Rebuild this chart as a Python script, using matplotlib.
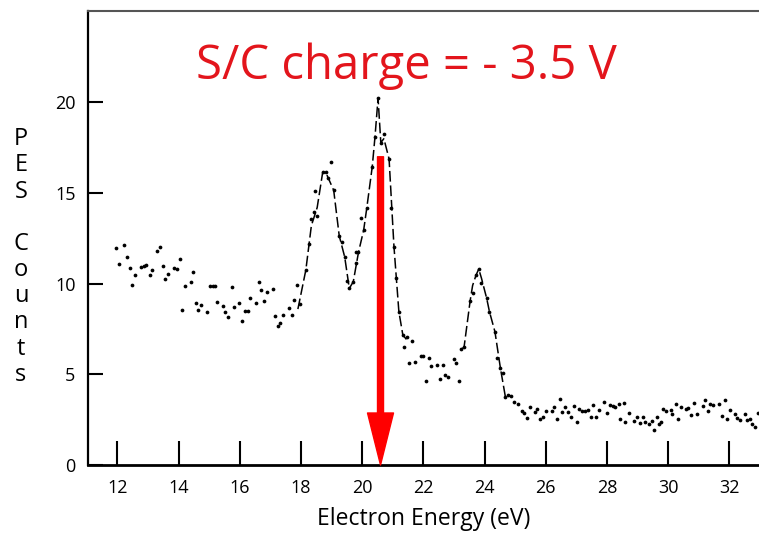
import matplotlib
matplotlib.use('Agg')
import matplotlib.pyplot as plt

energy = [11.96,12.06,12.23,12.32,12.41,12.49,12.59,12.78,12.86,12.95,13.05,13.13,13.31,13.40,13.49,
          13.57,13.66,13.85,13.95,14.04,14.11,14.21,14.39,14.47,14.56,14.65,14.73,14.92,15.03,15.12,
          15.19,15.27,15.45,15.53,15.63,15.73,15.80,15.99,16.08,16.17,16.26,16.35,16.53,16.62,16.71,
          16.79,16.88,17.07,17.15,17.24,17.33,17.42,17.61,
          17.70,17.78,17.87,17.96,18.16,18.25,18.34,18.44,18.46,18.53,18.71,18.81,18.90,18.99,19.07,
          19.25,19.34,19.43,19.52,19.58,19.71,19.79,19.80,19.88,19.97,20.05,20.15,20.33,20.42,20.52,
          20.61,20.71,20.88,20.95,21.04,21.11,21.20,21.33,21.37,21.46,
          21.54,21.63,21.72,21.92,22.00,22.08,22.18,22.26,22.45,22.54,22.63,22.72,22.82,22.99,23.08,
          23.16,23.23,23.33,23.53,23.61,23.72,23.81,23.90,24.07,24.16,24.34,24.40,24.52,24.60,24.68,
          24.77,24.86,24.96,25.09,
          25.23,25.30,25.39,25.49,25.64,25.71,25.81,25.90,26.01,26.20,26.28,26.36,26.47,26.54,26.64,
          26.73,26.84,26.92,27.01,27.10,27.20,27.29,27.38,27.47,27.56,27.65,27.75,27.92,28.00,28.10,
          28.19,28.28,28.40,28.44,28.55,28.60,28.71,28.90,28.97,29.07,29.17,29.25,29.37,29.46,29.54,
          29.63,29.70,29.78,29.84,29.94,30.09,30.13,30.25,30.33,30.42,30.58,30.66,30.75,30.85,30.94,
          31.14,31.22,31.30,31.38,31.48,31.65,31.76,31.85,31.93,32.03,32.19,32.26,32.35,32.51,32.59,
          32.68,32.75,32.84,32.93]
counts = [11.95,11.09,12.13,11.47,10.85,9.94,10.48,10.92,10.98,11.03,10.46,10.74,11.82,12.02,10.99,
          10.28,10.55,10.88,10.81,11.36,8.53,9.89,10.11,10.66,8.94,8.55,8.84,8.46,9.87,9.89,
          9.87,8.99,8.79,8.44,8.16,9.80,8.71,8.95,7.93,8.48,8.48,9.23,8.94,10.09,9.65,
          9.03,9.53,9.69,8.23,7.68,7.83,8.29,8.68,
          8.27,9.08,9.91,8.86,10.76,12.17,13.55,13.94,15.13,13.73,16.14,16.14,15.81,16.71,15.15,
          12.65,12.30,11.47,10.17,9.74,10.11,11.73,11.16,11.73,13.64,12.96,14.16,16.45,18.11,20.23,
          17.78,18.26,16.88,14.16,12.04,10.30,8.46,7.17,6.53,7.04,
          5.61,6.84,5.68,6.01,6.01,4.63,5.90,5.48,5.52,4.76,5.52,4.96,4.84,5.85,5.61,
          4.65,6.38,6.49,9.06,9.50,10.46,10.81,10.02,9.19,8.46,7.35,5.88,5.33,5.06,3.77,
          3.86,3.82,3.46,3.36,
          3.00,2.85,2.57,3.22,2.94,3.07,2.54,2.66,2.98,3.00,3.20,2.52,3.64,2.91,3.22,
          2.91,2.66,3.27,2.39,3.07,2.96,3.00,3.03,2.65,3.29,2.65,3.03,3.49,2.85,3.29,
          3.25,3.22,3.35,2.52,3.44,2.37,2.89,2.44,2.63,2.30,2.63,2.35,2.24,2.44,1.93,
          2.66,2.24,2.39,3.09,2.96,3.02,2.81,3.36,2.52,3.20,3.07,3.13,2.78,3.42,2.80,
          3.24,3.59,2.98,3.36,3.31,3.36,2.70,3.57,2.52,3.05,2.80,2.61,2.47,2.80,2.47,
          2.52,2.24,2.10,2.89]

# hand drawn guide lines through the peaks
peak1_x = [17.90,18.16,18.34,18.53,18.71,18.81,19.07,19.25,19.43,19.58,19.71,19.88,20.05,20.15,
           20.33,20.42,20.52,20.61,20.71,20.88,21.04,21.20,21.33,21.46]
peak1_y = [8.6,10.76,13.2,14.2,16.14,16.14,15.15,12.65,11.47,9.74,10.11,11.73,12.96,14.16,
           16.45,18.11,20.23,17.78,18.0,16.88,12.04,8.46,7.17,6.9]
peak2_x = [23.23,23.33,23.53,23.61,23.72,23.81,23.90,24.07,24.16,24.34,24.52,24.68,24.86]
peak2_y = [6.38,6.49,9.06,9.9,10.46,10.81,10.3,9.19,8.46,7.35,5.33,3.77,3.82]

charge_E = 20.6
arrow_top = 17.0
xticks = [12,14,16,18,20,22,24,26,28,30,32]
yticks = [0,5,10,15,20]

red = '#e3151c'
fnt = 'Open Sans'

fig = plt.figure(figsize=(7.59,5.34), dpi=100)
ax = fig.add_axes([88/759, 69/534, 671/759, 454/534])

ax.plot(peak1_x, peak1_y, color='k', lw=1.1, ls=(0,(7,2.5)))
ax.plot(peak2_x, peak2_y, color='k', lw=1.1, ls=(0,(7,2.5)))
ax.plot(energy, counts, 'o', color='k', ms=2.7, mew=0)

ax.annotate('', xy=(charge_E, 0), xytext=(charge_E, arrow_top),
            arrowprops=dict(arrowstyle='simple,head_width=1.3,head_length=2.6,tail_width=0.3',
                            color='#ff0000', shrinkA=0, shrinkB=0, mutation_scale=14.4))

ax.text(21.45, 21.3, 'S/C charge = - 3.5 V', color=red, fontsize=34, family=fnt,
        ha='center', va='baseline')

ax.set_xlim(11.04, 32.97)
ax.set_ylim(0, 25.04)
ax.set_xticks(xticks)
ax.set_yticks(yticks)
ax.tick_params(axis='x', direction='in', length=17, width=1.5, pad=10, labelsize=13)
ax.tick_params(axis='y', direction='in', length=11, width=1.5, pad=9, labelsize=13)
for lab in ax.get_xticklabels() + ax.get_yticklabels():
    lab.set_family(fnt)

ax.spines['right'].set_visible(False)
ax.spines['left'].set_linewidth(1.6)
ax.spines['bottom'].set_linewidth(2)
ax.spines['top'].set_color('#555555')
ax.spines['top'].set_linewidth(1.5)

ax.set_xlabel('Electron Energy (eV)', family=fnt, fontsize=16.5, va='center')
ax.xaxis.set_label_coords(0.5, -0.118)

fig.text(21/759, 1-257/534, 'P\nE\nS\n\nC\no\nu\nn\nt\ns', family=fnt, fontsize=17,
         ha='center', va='center', ma='center', linespacing=1.12)

fig.savefig('out.png', dpi=100)
